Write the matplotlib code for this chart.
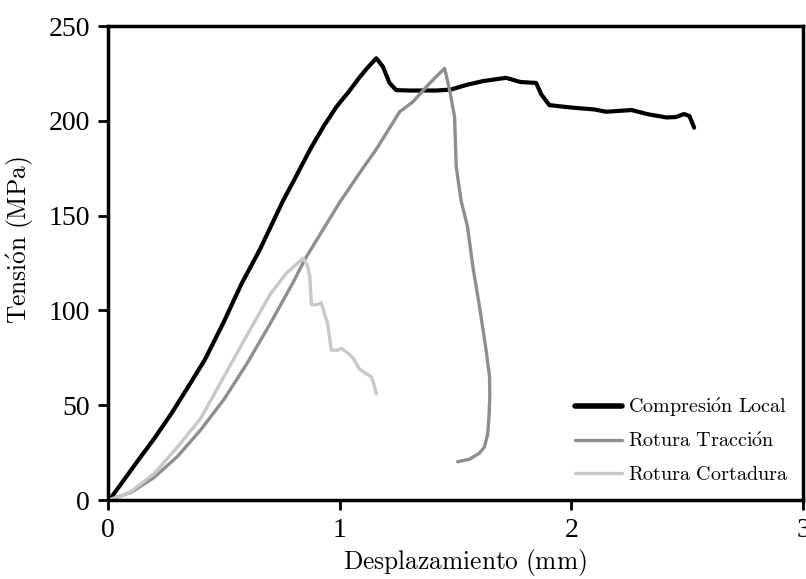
import matplotlib
matplotlib.use("Agg")
import matplotlib.pyplot as plt

plt.rcParams['mathtext.fontset'] = 'cm'
plt.rcParams['font.family'] = ['Liberation Serif', 'DejaVu Serif']

# Compresión Local
comp_x = [0.0, 0.016, 0.131, 0.2, 0.274, 0.35, 0.418, 0.5, 0.576, 0.655, 0.756, 0.8,
          0.871, 0.93, 0.986, 1.04, 1.086, 1.12, 1.158, 1.187, 1.215, 1.244, 1.3, 1.417,
          1.48, 1.546, 1.62, 1.718, 1.78, 1.848, 1.87, 1.905, 2.0, 2.1, 2.15, 2.26, 2.33,
          2.41, 2.45, 2.487, 2.51, 2.53]
comp_y = [0.0, 1.7, 21.1, 32.5, 45.7, 60.5, 74.0, 94.0, 114.0, 132.0, 158.0, 168.0,
          184.6, 197.0, 207.4, 215.5, 223.0, 228.0, 233.0, 228.5, 220.0, 216.2, 216.0, 216.0,
          216.5, 218.9, 221.0, 222.7, 220.5, 220.0, 214.0, 208.3, 207.0, 206.0, 204.8, 205.7,
          203.5, 201.8, 202.0, 203.6, 202.5, 196.4]

# Rotura Tracción
trac_x = [0.0, 0.1, 0.2, 0.3, 0.4, 0.5, 0.6, 0.7, 0.8, 0.85, 0.9, 0.95, 1.0, 1.1, 1.158,
          1.259, 1.316, 1.388, 1.453, 1.475, 1.496, 1.503, 1.524, 1.552, 1.575, 1.605,
          1.632, 1.647, 1.648, 1.645, 1.639, 1.625, 1.603, 1.56, 1.509]
trac_y = [0.0, 4.0, 12.0, 23.0, 37.0, 53.0, 72.0, 93.0, 115.0, 127.0, 137.0, 147.0,
          157.0, 175.0, 185.0, 204.8, 210.0, 219.8, 227.7, 216.0, 202.0, 175.8, 158.0,
          144.0, 123.0, 101.0, 79.0, 65.0, 55.0, 45.0, 35.0, 28.0, 24.7, 21.5, 20.2]

# Rotura Cortadura
cort_x = [0.0, 0.05, 0.1, 0.2, 0.3, 0.4, 0.5, 0.6, 0.7, 0.77, 0.842, 0.86, 0.871, 0.878,
          0.9, 0.921, 0.935, 0.948, 0.964, 0.99, 1.007, 1.04, 1.057, 1.086, 1.11, 1.137,
          1.15, 1.158]
cort_y = [0.0, 1.8, 4.5, 14.0, 28.0, 43.0, 65.0, 87.0, 108.5, 119.6, 127.5, 124.0,
          118.0, 103.0, 103.0, 104.0, 98.0, 93.0, 79.0, 79.0, 80.0, 77.0, 75.0, 69.0,
          67.0, 65.0, 60.0, 56.0]

labels = [r'$\mathrm{Compresi\acute{o}n\ Local}$',
          r'$\mathrm{Rotura\ Tracci\acute{o}n}$',
          r'$\mathrm{Rotura\ Cortadura}$']

x_ticks = [0, 1, 2, 3]
y_ticks = [0, 50, 100, 150, 200, 250]

fig = plt.figure(figsize=(8.06, 5.79), dpi=100)
ax = fig.add_axes([0.134, 0.1364, 0.8623, 0.8186])

ax.plot(comp_x, comp_y, color='#000000', lw=3.0, label=labels[0],
        solid_joinstyle='round', solid_capstyle='round')
ax.plot(trac_x, trac_y, color='#8e8e8e', lw=2.4, label=labels[1],
        solid_joinstyle='round', solid_capstyle='round')
ax.plot(cort_x, cort_y, color='#c8c8c8', lw=2.4, label=labels[2],
        solid_joinstyle='round', solid_capstyle='round')

ax.set_xlim(0, 3)
ax.set_ylim(0, 250)
ax.set_xticks(x_ticks)
ax.set_yticks(y_ticks)
ax.tick_params(direction='out', length=7, width=2, labelsize=20, pad=6)
for s in ax.spines.values():
    s.set_linewidth(2.5)

ax.set_xlabel(r'$\mathrm{Desplazamiento\ (mm)}$', fontsize=18.3)
ax.set_ylabel(r'$\mathrm{Tensi\acute{o}n\ (MPa)}$', fontsize=18.3)
ax.xaxis.set_label_coords(0.513, -0.1)
ax.yaxis.set_label_coords(-0.104, 0.549)

leg = ax.legend(loc='lower right', frameon=False, fontsize=14.5, handlelength=2.3,
                handletextpad=0.3, labelspacing=0.68, borderaxespad=0.35)
leg.get_lines()[0].set_linewidth(4)

fig.savefig('out.png', dpi=100)
